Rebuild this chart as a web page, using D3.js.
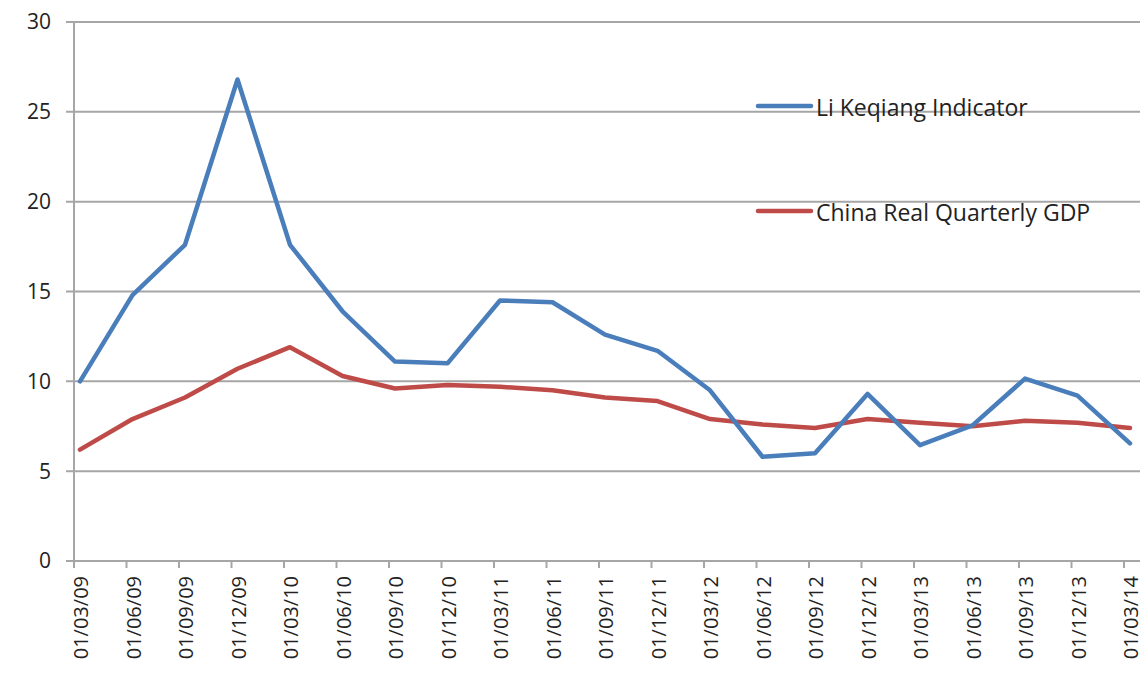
<!DOCTYPE html>
<html>
<head>
<meta charset="utf-8">
<script src="https://cdn.jsdelivr.net/npm/d3@7/dist/d3.min.js"></script>
<style>
  html, body { margin: 0; padding: 0; background: #fff; }
  svg { display: block; }
  text { font-family: "Open Sans", "Noto Sans", sans-serif; fill: #222; }
</style>
</head>
<body>
<svg id="chart" width="1144" height="680"></svg>
<script>
const categories = ["01/03/09","01/06/09","01/09/09","01/12/09","01/03/10","01/06/10","01/09/10","01/12/10",
  "01/03/11","01/06/11","01/09/11","01/12/11","01/03/12","01/06/12","01/09/12","01/12/12",
  "01/03/13","01/06/13","01/09/13","01/12/13","01/03/14"];
const liKeqiang = [10.0,14.8,17.6,26.8,17.6,13.9,11.1,11.0,14.5,14.4,12.6,11.7,9.5,5.8,6.0,9.3,6.45,7.55,10.15,9.2,6.55];
const chinaGDP  = [6.2,7.9,9.1,10.7,11.9,10.3,9.6,9.8,9.7,9.5,9.1,8.9,7.9,7.6,7.4,7.9,7.7,7.5,7.8,7.7,7.4];
const yTicks = [0,5,10,15,20,25,30];
const seriesNames = ["Li Keqiang Indicator","China Real Quarterly GDP"];

const svg = d3.select("#chart");
const x = d3.scalePoint().domain(categories).range([80, 1130]);
const y = d3.scaleLinear().domain([0, 30]).range([561, 22]);
const gridColor = "#a6a6a6";
const blue = "#4a7ebb", red = "#be4b48";

// gridlines
svg.append("g").selectAll("line").data(yTicks).join("line")
  .attr("x1", 66).attr("x2", 1140)
  .attr("y1", d => y(d)).attr("y2", d => y(d))
  .attr("stroke", gridColor).attr("stroke-width", 2);

// y axis line
svg.append("line").attr("x1", 74).attr("x2", 74).attr("y1", y(30)).attr("y2", y(0))
  .attr("stroke", gridColor).attr("stroke-width", 2);

// y labels
svg.append("g").selectAll("text").data(yTicks).join("text")
  .attr("x", 51).attr("y", d => y(d)).attr("dy", "0.35em")
  .attr("text-anchor", "end").attr("font-size", 21).text(d => d);

// x ticks
svg.append("g").selectAll("line").data(categories).join("line")
  .attr("x1", d => x(d) - 6).attr("x2", d => x(d) - 6)
  .attr("y1", y(0)).attr("y2", y(0) + 7)
  .attr("stroke", gridColor).attr("stroke-width", 2);

// x labels
svg.append("g").selectAll("text").data(categories).join("text")
  .attr("transform", d => `translate(${x(d) + 1},576) rotate(-90)`)
  .attr("dy", "0.35em").attr("text-anchor", "end").attr("font-size", 20)
  .text(d => d);

// lines
const line = d3.line().x((d, i) => x(categories[i])).y(d => y(d));
[[chinaGDP, red], [liKeqiang, blue]].forEach(([data, color]) => {
  svg.append("path").datum(data).attr("d", line)
    .attr("fill", "none").attr("stroke", color).attr("stroke-width", 4.5)
    .attr("stroke-linejoin", "round").attr("stroke-linecap", "round");
});

// legend
const legend = [[seriesNames[0], blue, 106], [seriesNames[1], red, 211]];
legend.forEach(([name, color, ly]) => {
  svg.append("line").attr("x1", 758).attr("x2", 811).attr("y1", ly).attr("y2", ly)
    .attr("stroke", color).attr("stroke-width", 4.5).attr("stroke-linecap", "round");
  svg.append("text").attr("x", 816).attr("y", ly + 2).attr("dy", "0.35em")
    .attr("font-size", 23).text(name);
});
</script>
</body>
</html>
